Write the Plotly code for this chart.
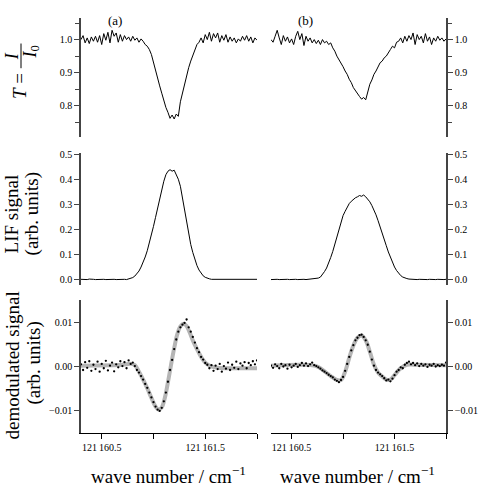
import plotly.graph_objects as go

# ---------------- data ----------------
wn = [round(121160.30 + 0.02 * i, 2) for i in range(86)]

trans_a = [1.000, 1.012, 0.990, 1.005, 0.988, 1.008, 0.995, 1.010, 0.992, 1.012,
           0.985, 1.018, 0.998, 1.022, 0.990, 1.028, 1.010, 1.020, 0.992, 1.015,
           0.995, 1.012, 1.000, 1.008, 0.995, 1.010, 0.998, 1.005, 0.992, 1.002,
           0.995, 0.985, 0.980, 0.970, 0.955, 0.930, 0.905, 0.878, 0.860, 0.838,
           0.812, 0.795, 0.780, 0.762, 0.772, 0.760, 0.775, 0.768, 0.812, 0.840,
           0.868, 0.895, 0.915, 0.935, 0.950, 0.965, 0.985, 0.992, 1.005, 0.990,
           1.015, 1.000, 1.022, 0.995, 1.018, 1.005, 1.020, 0.992, 1.012, 0.998,
           1.015, 0.992, 1.008, 0.995, 1.005, 0.990, 1.002, 0.995, 1.010, 0.998,
           1.012, 0.995, 1.008, 0.990, 1.005, 0.998]

trans_b = [1.000, 0.992, 1.010, 1.028, 1.005, 0.985, 1.012, 0.995, 1.008, 0.990,
           1.002, 0.985, 1.010, 1.025, 1.000, 1.018, 0.982, 1.010, 0.995, 1.005,
           0.990, 1.000, 0.988, 0.998, 0.985, 1.000, 0.990, 0.995, 0.985, 0.990,
           0.975, 0.965, 0.950, 0.940, 0.930, 0.918, 0.905, 0.895, 0.880, 0.870,
           0.855, 0.845, 0.835, 0.828, 0.820, 0.825, 0.818, 0.840, 0.865, 0.878,
           0.895, 0.905, 0.920, 0.930, 0.935, 0.945, 0.950, 0.962, 0.970, 0.980,
           0.975, 0.992, 0.995, 1.005, 0.990, 1.010, 0.995, 1.012, 1.000, 1.020,
           0.985, 1.015, 1.000, 1.010, 0.990, 1.018, 0.995, 1.008, 0.985, 1.005,
           0.995, 1.010, 0.998, 1.005, 0.995, 1.002]

lif_a = [0.001, 0.000, 0.001, 0.000, 0.002, 0.000, 0.001, 0.000, 0.001, 0.001,
         0.000, 0.001, 0.000, 0.001, 0.000, 0.001, 0.001, 0.000, 0.001, 0.000,
         0.001, 0.001, 0.000, 0.002, 0.004, 0.008, 0.014, 0.022, 0.034, 0.050,
         0.068, 0.090, 0.115, 0.145, 0.178, 0.212, 0.248, 0.285, 0.322, 0.358,
         0.392, 0.418, 0.432, 0.438, 0.432, 0.436, 0.420, 0.400, 0.372, 0.325,
         0.275, 0.225, 0.180, 0.140, 0.108, 0.080, 0.056, 0.038, 0.025, 0.015,
         0.009, 0.005, 0.003, 0.001, 0.001, 0.000, 0.001, 0.000, 0.001, 0.000,
         0.001, 0.000, 0.000, 0.001, 0.000, 0.001, 0.000, 0.001, 0.000, 0.001,
         0.000, 0.001, 0.000, 0.001, 0.000, 0.001]

lif_b = [0.000, 0.001, 0.000, 0.001, 0.000, 0.001, 0.000, 0.000, 0.001, 0.000,
         0.001, 0.000, 0.001, 0.000, 0.001, 0.000, 0.001, 0.000, 0.001, 0.001,
         0.001, 0.002, 0.003, 0.006, 0.010, 0.020, 0.032, 0.046, 0.065, 0.088,
         0.112, 0.140, 0.172, 0.200, 0.228, 0.255, 0.272, 0.290, 0.303, 0.312,
         0.320, 0.326, 0.330, 0.335, 0.332, 0.337, 0.330, 0.322, 0.310, 0.295,
         0.278, 0.258, 0.235, 0.212, 0.188, 0.162, 0.135, 0.110, 0.088, 0.068,
         0.050, 0.036, 0.024, 0.016, 0.010, 0.006, 0.004, 0.002, 0.001, 0.000,
         0.001, 0.000, 0.001, 0.000, 0.001, 0.000, 0.000, 0.001, 0.000, 0.001,
         0.000, 0.001, 0.000, 0.001, 0.000, 0.001]

demod_a = [0.0005, -0.0008, 0.0010, -0.0003, 0.0012, -0.0010, 0.0004, -0.0006, 0.0011, -0.0012,
           0.0006, -0.0004, 0.0013, -0.0009, 0.0002, 0.0009, -0.0011, 0.0005, -0.0002, 0.0012,
           0.0001, 0.0010, -0.0004, 0.0014, 0.0006, 0.0009, 0.0001, -0.0008, -0.0014, -0.0022,
           -0.0030, -0.0040, -0.0049, -0.0060, -0.0071, -0.0082, -0.0092, -0.0099, -0.0102, -0.0095,
           -0.0080, -0.0060, -0.0035, -0.0008, 0.0015, 0.0040, 0.0062, 0.0080, 0.0090, 0.0096,
           0.0100, 0.0108, 0.0090, 0.0080, 0.0068, 0.0055, 0.0042, 0.0033, 0.0022, 0.0016,
           0.0008, 0.0004, -0.0004, 0.0003, -0.0010, 0.0002, -0.0006, 0.0006, -0.0012, 0.0001,
           -0.0005, 0.0009, -0.0008, 0.0004, -0.0003, 0.0011, -0.0006, 0.0007, 0.0002, 0.0010,
           -0.0004, 0.0008, 0.0003, 0.0012, 0.0005, 0.0014]

demod_b = [0.0002, -0.0003, 0.0005, 0.0001, -0.0004, 0.0006, 0.0000, 0.0003, -0.0005, 0.0004,
           -0.0002, 0.0002, 0.0006, -0.0001, 0.0003, 0.0008, 0.0002, 0.0007, 0.0001, 0.0005,
           0.0009, 0.0003, 0.0001, -0.0002, -0.0005, -0.0009, -0.0012, -0.0015, -0.0019, -0.0022,
           -0.0025, -0.0030, -0.0033, -0.0036, -0.0031, -0.0024, -0.0010, 0.0006, 0.0022, 0.0037,
           0.0049, 0.0060, 0.0066, 0.0072, 0.0073, 0.0068, 0.0060, 0.0050, 0.0034, 0.0016,
           0.0002, -0.0008, -0.0014, -0.0018, -0.0022, -0.0027, -0.0032, -0.0030, -0.0034, -0.0028,
           -0.0020, -0.0012, -0.0008, -0.0002, -0.0004, 0.0004, 0.0008, 0.0011, 0.0005, 0.0008,
           0.0003, 0.0007, 0.0001, 0.0006, 0.0002, 0.0005, -0.0001, 0.0004, 0.0002, 0.0006,
           0.0000, 0.0003, 0.0001, 0.0004, 0.0002, 0.0009]

fit_a_x = [121160.30, 121160.70, 121160.78, 121160.82, 121160.86, 121160.90, 121160.94,
           121160.98, 121161.02, 121161.05, 121161.08, 121161.11, 121161.14, 121161.17,
           121161.20, 121161.23, 121161.26, 121161.29, 121161.32, 121161.35, 121161.38,
           121161.42, 121161.46, 121161.50, 121161.55, 121161.62, 121161.80, 121162.00]
fit_a_y = [0.0002, 0.0004, 0.0006, 0.0003, -0.0012, -0.0030, -0.0050,
           -0.0072, -0.0092, -0.0099, -0.0094, -0.0072, -0.0036, 0.0004,
           0.0042, 0.0074, 0.0092, 0.0098, 0.0093, 0.0078, 0.0060,
           0.0040, 0.0022, 0.0009, 0.0001, -0.0003, -0.0004, -0.0004]

fit_b_x = [121160.30, 121160.70, 121160.76, 121160.82, 121160.88, 121160.94, 121160.98,
           121161.02, 121161.06, 121161.10, 121161.14, 121161.18, 121161.22, 121161.26,
           121161.30, 121161.34, 121161.38, 121161.42, 121161.46, 121161.50, 121161.55,
           121161.62, 121161.70, 121162.00]
fit_b_y = [0.0002, 0.0003, -0.0001, -0.0011, -0.0022, -0.0031, -0.0031,
           -0.0012, 0.0020, 0.0048, 0.0066, 0.0071, 0.0060, 0.0034,
           0.0004, -0.0014, -0.0023, -0.0030, -0.0030, -0.0020, -0.0006,
           0.0004, 0.0004, 0.0003]

x_tickvals = [121160.5, 121161.0, 121161.5, 121162.0]
x_ticktext = ["121\u2009160.5", "", "121\u2009161.5", ""]
x_range = [121160.30, 121162.00]

# ---------------- figure ----------------
FONT = "Liberation Serif"
W = H = 488


def px(v):
    return v / W


def py(v):
    return 1 - v / H


fig = go.Figure()

line_k = dict(color="black", width=1)

fig.add_trace(go.Scatter(x=wn, y=trans_a, mode="lines", line=line_k, xaxis="x", yaxis="y"))
fig.add_trace(go.Scatter(x=wn, y=trans_b, mode="lines", line=line_k, xaxis="x2", yaxis="y2"))
fig.add_trace(go.Scatter(x=wn, y=lif_a, mode="lines", line=line_k, xaxis="x3", yaxis="y3"))
fig.add_trace(go.Scatter(x=wn, y=lif_b, mode="lines", line=line_k, xaxis="x4", yaxis="y4"))
fig.add_trace(go.Scatter(x=fit_a_x, y=fit_a_y, mode="lines", line=dict(color="#b5b5b5", width=4, shape="spline"),
                         xaxis="x5", yaxis="y5"))
fig.add_trace(go.Scatter(x=wn, y=demod_a, mode="markers", marker=dict(color="black", size=2.3),
                         xaxis="x5", yaxis="y5"))
fig.add_trace(go.Scatter(x=fit_b_x, y=fit_b_y, mode="lines", line=dict(color="#b5b5b5", width=4, shape="spline"),
                         xaxis="x6", yaxis="y6"))
fig.add_trace(go.Scatter(x=wn, y=demod_b, mode="markers", marker=dict(color="black", size=2.3),
                         xaxis="x6", yaxis="y6"))

colL = [px(81), px(257)]
colR = [px(271), px(446)]
row1 = [py(134), py(13)]
row2 = [py(283), py(150)]
row3 = [py(433), py(299)]

tickfont = dict(family=FONT, size=10, color="black")
axcol = "#444444"


def xax(domain, anchor, visible):
    d = dict(domain=domain, range=x_range, anchor=anchor, showgrid=False, zeroline=False)
    if visible:
        d.update(showline=True, linecolor="black", linewidth=1.2, ticks="outside", ticklen=5,
                 tickcolor="black", tickvals=x_tickvals, ticktext=x_ticktext, tickfont=tickfont)
    else:
        d.update(visible=False)
    return d


def yax(domain, anchor, side, rng, **kw):
    d = dict(domain=domain, range=rng, anchor=anchor, side=side, showgrid=False, zeroline=False,
             showline=True, linecolor=axcol, linewidth=1.5, ticks="outside", ticklen=5,
             tickcolor=axcol, tickfont=tickfont)
    d.update(kw)
    return d


top_kw = dict(tick0=0, dtick=0.1, tickformat=".1f",
              minor=dict(dtick=0.05, tick0=0, ticks="outside", ticklen=4, tickcolor=axcol))
mid_kw = dict(tick0=0, dtick=0.1, tickformat=".1f")
bot_kw = dict(tickvals=[-0.01, 0.0, 0.01], ticktext=["\u22120.01", "0.00", "0.01"])

fig.update_layout(
    width=W, height=H,
    margin=dict(l=0, r=0, t=0, b=0),
    paper_bgcolor="white", plot_bgcolor="white",
    showlegend=False,
    font=dict(family=FONT, color="black"),
    xaxis=xax(colL, "y", False),
    xaxis2=xax(colR, "y2", False),
    xaxis3=xax(colL, "y3", False),
    xaxis4=xax(colR, "y4", False),
    xaxis5=xax(colL, "y5", True),
    xaxis6=xax(colR, "y6", True),
    yaxis=yax(row1, "x", "left", [0.7045, 1.0657], **top_kw),
    yaxis2=yax(row1, "x2", "right", [0.7045, 1.0657], **top_kw),
    yaxis3=yax(row2, "x3", "left", [-0.0197, 0.5039], **mid_kw),
    yaxis4=yax(row2, "x4", "right", [-0.0197, 0.5039], **mid_kw),
    yaxis5=yax(row3, "x5", "left", [-0.0152, 0.0152], **bot_kw),
    yaxis6=yax(row3, "x6", "right", [-0.0152, 0.0152], **bot_kw),
)

ann = []


def add_text(text, x, y, size, angle=0):
    ann.append(dict(text=text, x=px(x), y=py(y), xref="paper", yref="paper", showarrow=False,
                    xanchor="center", yanchor="middle", textangle=angle,
                    font=dict(family=FONT, size=size, color="black")))


add_text("(a)", 115, 16, 13)
add_text("(b)", 305, 16, 13)
# T = I / I0 as a stacked fraction (rotated)
add_text("<i>T</i> =", 20, 82, 19, -90)
add_text("<i>I</i>", 12, 52, 18, -90)
add_text("<i>I</i><sub>0</sub>", 31, 48, 18, -90)
add_text("LIF signal", 11, 212, 19, -90)
add_text("(arb. units)", 32, 212, 19, -90)
add_text("demodulated signal", 13, 365, 19, -90)
add_text("(arb. units)", 34, 363, 19, -90)
add_text("wave number / cm<sup>\u22121</sup>", 168, 476, 19)
add_text("wave number / cm<sup>\u22121</sup>", 357, 476, 19)

fig.update_layout(
    annotations=ann,
    shapes=[dict(type="line", xref="paper", yref="paper", x0=px(21), x1=px(21), y0=py(39), y1=py(64),
                 line=dict(color="black", width=1))],
)

fig.write_html("out.html")
